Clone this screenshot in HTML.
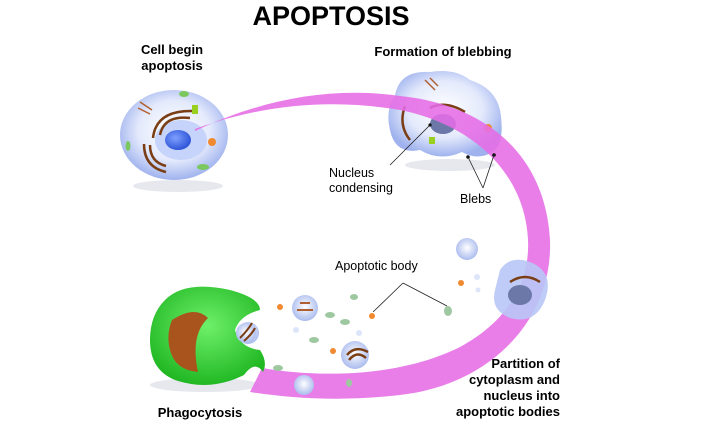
<!DOCTYPE html>
<html><head><style>
body{margin:0;background:#fff;width:701px;height:430px;overflow:hidden}
svg{display:block}
text{font-family:"Liberation Sans",sans-serif}
</style></head><body>
<svg width="701" height="430" viewBox="0 0 701 430">
<defs>
<radialGradient id="cg" cx="50%" cy="45%" r="55%"><stop offset="0" stop-color="#ffffff"/><stop offset="0.6" stop-color="#e4eafc"/><stop offset="1" stop-color="#9fb2ee"/></radialGradient>
<radialGradient id="ng" cx="40%" cy="40%" r="60%"><stop offset="0" stop-color="#7fa0ff"/><stop offset="1" stop-color="#2f56d8"/></radialGradient>
<radialGradient id="gg" cx="50%" cy="40%" r="60%"><stop offset="0" stop-color="#6ef06a"/><stop offset="1" stop-color="#22b824"/></radialGradient>
<radialGradient id="bg" cx="50%" cy="45%" r="55%"><stop offset="0" stop-color="#fff"/><stop offset="1" stop-color="#aabbee"/></radialGradient>
</defs>
<text x="331" y="25" font-size="27" font-weight="bold" text-anchor="middle">APOPTOSIS</text>
<text x="172" y="54" font-size="13" font-weight="bold" text-anchor="middle">Cell begin</text>
<text x="172" y="70" font-size="13" font-weight="bold" text-anchor="middle">apoptosis</text>
<text x="443" y="56" font-size="13" font-weight="bold" text-anchor="middle">Formation of blebbing</text>
<!-- shadows -->
<ellipse cx="178" cy="186" rx="45" ry="6" fill="#e6e8ee"/>
<ellipse cx="450" cy="165" rx="45" ry="6" fill="#e6e8ee"/>
<ellipse cx="205" cy="385" rx="55" ry="7" fill="#e6e8ee"/>
<!-- cell 1 -->
<ellipse cx="174" cy="135" rx="54" ry="45" fill="url(#cg)"/>
<ellipse cx="181" cy="140" rx="26" ry="20" fill="#c6d3fa"/>
<ellipse cx="178" cy="140" rx="13" ry="10" fill="url(#ng)"/>
<path d="M160,135 Q164,115 190,118" stroke="#7a3d14" stroke-width="2.5" fill="none"/>
<path d="M153,138 Q156,110 193,111" stroke="#7a3d14" stroke-width="2.5" fill="none"/>
<path d="M150,145 Q150,162 166,166" stroke="#7a3d14" stroke-width="2.5" fill="none"/>
<path d="M144,144 Q144,167 166,172" stroke="#7a3d14" stroke-width="2.5" fill="none"/>
<path d="M138,108 l12,6 M140,102 l12,8" stroke="#b06030" stroke-width="1.5"/>
<circle cx="212" cy="142" r="4" fill="#f08a30"/>
<rect x="192" y="105" width="6" height="9" fill="#9ad020"/>
<ellipse cx="203" cy="167" rx="6" ry="3" fill="#7cc860"/>
<ellipse cx="184" cy="94" rx="5" ry="3" fill="#7cc860"/>
<ellipse cx="128" cy="146" rx="2.5" ry="5" fill="#7cc860"/>
<!-- cell 2 blob -->
<path d="M395,95 Q400,70 430,72 Q455,68 470,80 Q495,88 500,110 Q505,140 495,150 Q480,162 462,152 Q440,162 420,150 Q395,155 390,130 Q385,110 395,95 Z" fill="url(#cg)"/>
<ellipse cx="443" cy="124" rx="13" ry="10" fill="#6b78a8"/>
<path d="M405,106 Q398,125 410,140" stroke="#7a3d14" stroke-width="2.5" fill="none"/>
<path d="M430,108 Q445,100 465,112" stroke="#7a3d14" stroke-width="2.5" fill="none"/>
<path d="M425,80 l10,10 M430,78 l8,8" stroke="#b06030" stroke-width="1.5"/>
<circle cx="488" cy="128" r="4" fill="#f08a30"/>
<rect x="429" y="137" width="6" height="7" fill="#9ad020"/>
<!-- band -->
<path d="M195,131 C260,100 330,86 400,96 C480,104 545,150 550,240 C553,320 490,385 400,395 C340,402 290,398 250,392 L262,368 C320,378 400,377 460,347 C510,320 530,280 528,240 C525,175 475,125 400,110 C330,98 260,105 195,129 Z" fill="#e66ce6" opacity="0.88"/>
<circle cx="468" cy="157" r="1.8" fill="#111"/><circle cx="494" cy="155" r="1.8" fill="#111"/>
<line x1="430" y1="125" x2="390" y2="165" stroke="#222" stroke-width="0.8"/>
<circle cx="430" cy="125" r="1.6" fill="#111"/>
<line x1="468" y1="157" x2="483" y2="188" stroke="#222" stroke-width="0.8"/>
<line x1="494" y1="155" x2="483" y2="188" stroke="#222" stroke-width="0.8"/>
<text x="329" y="177" font-size="12.5">Nucleus</text>
<text x="329" y="192" font-size="12.5">condensing</text>
<text x="460" y="203" font-size="12.5">Blebs</text>
<!-- cell 3 -->
<path d="M500,270 Q510,255 530,262 Q555,272 545,300 Q535,325 510,318 Q490,310 495,290 Z" fill="#b8c6f6" opacity="0.9"/>
<ellipse cx="520" cy="295" rx="12" ry="10" fill="#6b78a8"/>
<path d="M510,282 Q525,272 540,282" stroke="#7a3d14" stroke-width="2.5" fill="none"/>
<!-- apoptotic bodies -->
<g fill="url(#bg)">
<circle cx="467" cy="249" r="11"/><circle cx="305" cy="308" r="13"/><circle cx="355" cy="355" r="14"/>
<circle cx="304" cy="385" r="10"/><circle cx="248" cy="333" r="11"/>
</g>
<g fill="#f08a30">
<circle cx="280" cy="307" r="3"/><circle cx="372" cy="316" r="3"/><circle cx="333" cy="351" r="3"/><circle cx="461" cy="283" r="3"/>
</g>
<g fill="#dde5fb">
<circle cx="296" cy="330" r="3"/><circle cx="359" cy="333" r="3"/><circle cx="477" cy="277" r="3"/><circle cx="478" cy="290" r="2.5"/>
</g>
<g fill="#9ec8a0">
<ellipse cx="354" cy="297" rx="4" ry="3"/><ellipse cx="330" cy="315" rx="5" ry="3"/><ellipse cx="314" cy="340" rx="5" ry="3"/><ellipse cx="345" cy="322" rx="5" ry="3"/><ellipse cx="448" cy="311" rx="4" ry="5"/><ellipse cx="210" cy="333" rx="3" ry="5"/><ellipse cx="278" cy="368" rx="5" ry="3"/><ellipse cx="349" cy="383" rx="3" ry="4"/>
</g>
<path d="M297,310 h16 M300,303 h10" stroke="#b06030" stroke-width="2"/>
<path d="M347,355 Q355,345 368,352 M349,360 Q357,350 366,358" stroke="#7a3d14" stroke-width="2.5" fill="none"/>
<line x1="373" y1="312" x2="403" y2="283" stroke="#222" stroke-width="0.8"/>
<line x1="403" y1="283" x2="447" y2="306" stroke="#222" stroke-width="0.8"/>
<text x="335" y="270" font-size="12.5">Apoptotic body</text>
<!-- phagocyte -->
<path d="M165,300 Q185,280 230,290 Q260,298 260,310 Q240,315 235,330 Q240,348 260,350 Q268,362 263,372 Q255,360 244,375 Q210,392 175,380 Q150,370 150,340 Q150,315 165,300 Z" fill="url(#gg)"/>
<path d="M172,320 Q195,305 208,318 Q190,335 198,372 Q175,370 170,350 Q166,335 172,320 Z" fill="#a8541c"/>
<circle cx="246" cy="333" r="10" fill="url(#bg)"/>
<path d="M240,338 Q248,330 252,323 M244,341 Q252,334 255,328" stroke="#7a3d14" stroke-width="2" fill="none"/>
<text x="200" y="417" font-size="13" font-weight="bold" text-anchor="middle">Phagocytosis</text>
<text x="560" y="368" font-size="13" font-weight="bold" text-anchor="end">Partition of</text>
<text x="560" y="384" font-size="13" font-weight="bold" text-anchor="end">cytoplasm and</text>
<text x="560" y="400" font-size="13" font-weight="bold" text-anchor="end">nucleus into</text>
<text x="560" y="416" font-size="13" font-weight="bold" text-anchor="end">apoptotic bodies</text>
</svg>
</body></html>
